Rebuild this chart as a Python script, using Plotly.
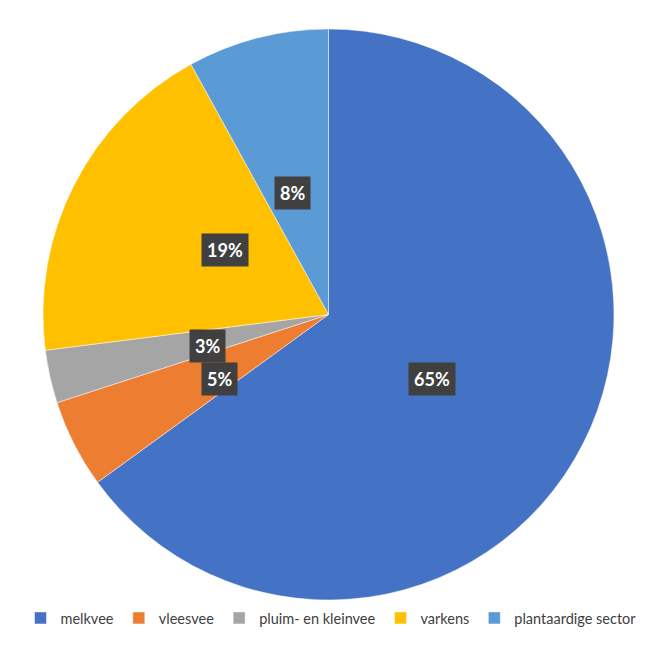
import math
import plotly.graph_objects as go

labels = ['melkvee', 'vleesvee', 'pluim- en kleinvee', 'varkens', 'plantaardige sector']
values = [65, 5, 3, 19, 8]
colors = ['#4472C4', '#ED7D31', '#A5A5A5', '#FFC000', '#5B9BD5']

W, H = 659, 669
off = 8  # page body margin
# pie box in pixels (as seen in the screenshot)
left, right, top, bottom = 43 - off, 614 - off, 29 - off, 600 - off
cx = (left + right) / 2
cy = (top + bottom) / 2
radius = (right - left) / 2

fig = go.Figure()
fig.add_trace(go.Pie(labels=labels, values=values, sort=False,
                     direction='clockwise', rotation=0,
                     marker=dict(colors=colors, line=dict(color='rgba(255,255,255,0.6)', width=0.8)),
                     textinfo='none', hoverinfo='label+percent',
                     domain=dict(x=[left / W, right / W], y=[1 - bottom / H, 1 - top / H])))

# data labels at half radius on each slice's mid angle
total = sum(values)
cum = 0
for v in values:
    mid = (cum + v / 2) / total * 2 * math.pi
    cum += v
    r = radius * 0.5
    px_x = cx + r * math.sin(mid)
    px_y = cy - r * math.cos(mid)
    fig.add_annotation(x=px_x / W, y=1 - px_y / H, xref='paper', yref='paper',
                       text='<b>%d%%</b>' % round(v / total * 100), showarrow=False,
                       font=dict(family='Lato', size=18, color='white'),
                       bgcolor='#404040', borderpad=5)

fig.update_layout(width=W, height=H, margin=dict(l=0, r=0, t=0, b=0),
                  paper_bgcolor='white', plot_bgcolor='white',
                  showlegend=True,
                  legend=dict(orientation='h', x=(331 - off) / W, xanchor='center',
                              y=1 - (618 - off) / H, yanchor='middle',
                              font=dict(family='Lato', size=14.5, color='#404040'),
                              itemwidth=30, tracegroupgap=0))
fig.write_html('out.html')
